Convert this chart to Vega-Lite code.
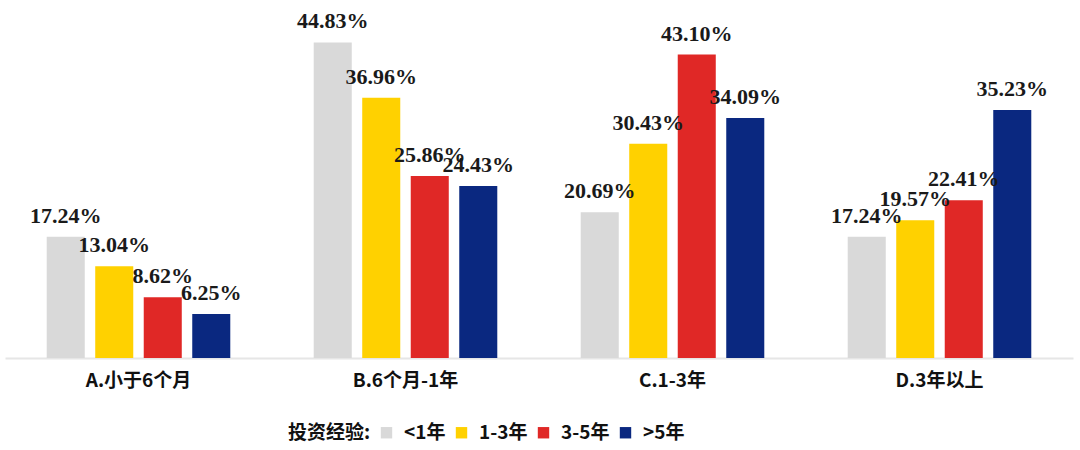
{
  "$schema": "https://vega.github.io/schema/vega-lite/v6.json",
  "width": 1068,
  "height": 352,
  "padding": {"left": 5, "top": 6, "right": 7, "bottom": 0},
  "autosize": {"type": "pad"},
  "background": "white",
  "config": {"view": {"stroke": null}},
  "data": {
    "values": [
      {"cat": "A.小于6个月", "exp": "<1年", "v": 17.24},
      {"cat": "A.小于6个月", "exp": "1-3年", "v": 13.04},
      {"cat": "A.小于6个月", "exp": "3-5年", "v": 8.62},
      {"cat": "A.小于6个月", "exp": ">5年", "v": 6.25},
      {"cat": "B.6个月-1年", "exp": "<1年", "v": 44.83},
      {"cat": "B.6个月-1年", "exp": "1-3年", "v": 36.96},
      {"cat": "B.6个月-1年", "exp": "3-5年", "v": 25.86},
      {"cat": "B.6个月-1年", "exp": ">5年", "v": 24.43},
      {"cat": "C.1-3年", "exp": "<1年", "v": 20.69},
      {"cat": "C.1-3年", "exp": "1-3年", "v": 30.43},
      {"cat": "C.1-3年", "exp": "3-5年", "v": 43.10},
      {"cat": "C.1-3年", "exp": ">5年", "v": 34.09},
      {"cat": "D.3年以上", "exp": "<1年", "v": 17.24},
      {"cat": "D.3年以上", "exp": "1-3年", "v": 19.57},
      {"cat": "D.3年以上", "exp": "3-5年", "v": 22.41},
      {"cat": "D.3年以上", "exp": ">5年", "v": 35.23}
    ]
  },
  "transform": [
    {"calculate": "format(datum.v, '.2f') + '%'", "as": "label"}
  ],
  "encoding": {
    "x": {
      "field": "cat", "type": "nominal", "sort": null,
      "scale": {"paddingInner": 0, "paddingOuter": 0},
      "axis": {
        "title": null, "ticks": false, "domainColor": "#e6e6e6", "domainWidth": 2,
        "labelAngle": 0, "labelFont": "Noto Sans CJK SC", "labelFontWeight": "bold",
        "labelFontSize": 19, "labelColor": "#111111", "labelPadding": 13, "grid": false
      }
    },
    "xOffset": {
      "field": "exp", "type": "nominal",
      "sort": ["<1年", "1-3年", "3-5年", ">5年"],
      "scale": {"paddingInner": 0.216, "paddingOuter": 0.86}
    },
    "y": {
      "field": "v", "type": "quantitative",
      "scale": {"domain": [0, 50], "nice": false},
      "axis": null
    }
  },
  "layer": [
    {
      "mark": {"type": "bar"},
      "encoding": {
        "color": {
          "field": "exp", "type": "nominal",
          "sort": ["<1年", "1-3年", "3-5年", ">5年"],
          "scale": {
            "domain": ["<1年", "1-3年", "3-5年", ">5年"],
            "range": ["#D9D9D9", "#FFD100", "#E02826", "#0A2880"]
          },
          "legend": {
            "orient": "none", "legendX": 283, "legendY": 417,
            "direction": "horizontal", "padding": 0,
            "title": "投资经验:", "titleOrient": "left", "titleAnchor": "middle",
            "titleFont": "Noto Sans CJK SC", "titleFontWeight": "bold", "titleFontSize": 19,
            "titleColor": "#111111", "titlePadding": 6, "titleBaseline": "middle",
            "labelFont": "Noto Sans CJK SC", "labelFontWeight": "bold", "labelFontSize": 19,
            "labelColor": "#111111", "labelOffset": 8,
            "symbolType": "square", "symbolSize": 130, "symbolStrokeWidth": 0,
            "columnPadding": 6
          }
        }
      }
    },
    {
      "mark": {
        "type": "text", "baseline": "alphabetic", "align": "center", "dy": -14,
        "font": "Liberation Serif", "fontWeight": "bold", "fontSize": 22, "color": "#1a1a1a"
      },
      "encoding": {
        "text": {"field": "label", "type": "nominal"}
      }
    }
  ]
}
